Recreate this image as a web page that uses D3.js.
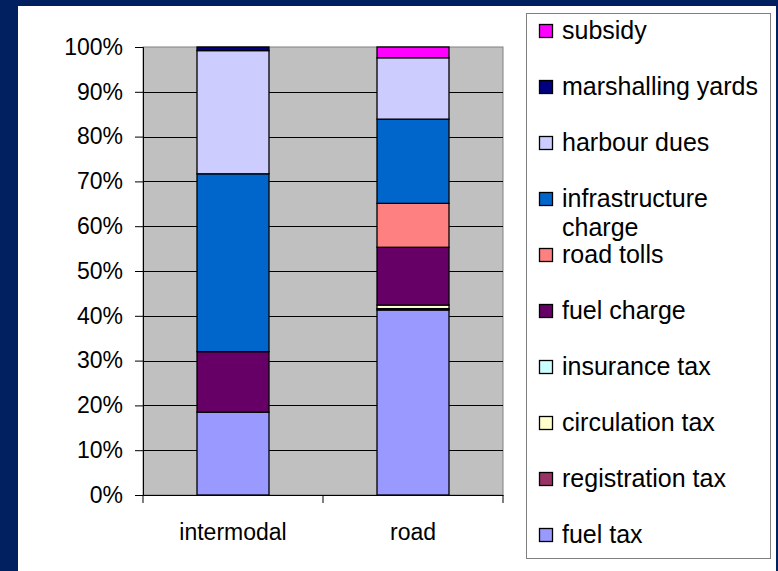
<!DOCTYPE html>
<html>
<head>
<meta charset="utf-8">
<script src="https://cdn.jsdelivr.net/npm/d3@7"></script>
<style>
  html, body { margin: 0; padding: 0; background: #002060; }
  svg { display: block; font-family: 'Liberation Sans', Arial, sans-serif; }
</style>
</head>
<body>
<svg id="chart" width="778" height="571"></svg>
<script>
// chart data (percent of total per mode)
const categories = ['intermodal', 'road']
const seriesNames = [
  'fuel tax', 'registration tax', 'circulation tax', 'insurance tax',
  'fuel charge', 'road tolls', 'infrastructure charge', 'harbour dues',
  'marshalling yards', 'subsidy'
]
const seriesColors = [
  '#9999FF', '#993366', '#FFFFCC', '#CCFFFF', '#660066',
  '#FF8080', '#0066CC', '#CCCCFF', '#000080', '#FF00FF'
]
const intermodalValues = [18.5, 0, 0, 0, 13.5, 0, 39.7, 27.5, 0.8, 0]
const roadValues = [41.3, 0.3, 0.8, 0, 12.9, 9.8, 18.8, 13.7, 0, 2.4]
const yTicks = [0, 0.1, 0.2, 0.3, 0.4, 0.5, 0.6, 0.7, 0.8, 0.9, 1]

const svg = d3.select('#chart')

// white slide panel
svg.append('rect')
  .attr('x', 18).attr('y', 6)
  .attr('width', 758).attr('height', 571)
  .attr('fill', '#fff')

const plot = { left: 143, right: 503, top: 47, bottom: 495 }

const rows = categories.map((name, i) => {
  const vals = i === 0 ? intermodalValues : roadValues
  const row = { name }
  seriesNames.forEach((s, j) => { row[s] = vals[j] })
  return row
})

const stack = d3.stack()
  .keys(seriesNames)
  .offset(d3.stackOffsetExpand)
const series = stack(rows)

const x = d3.scaleBand()
  .domain(categories)
  .range([plot.left, plot.right])
  .paddingInner(0.6)
  .paddingOuter(0.3)

const y = d3.scaleLinear()
  .domain([0, 1])
  .range([plot.bottom, plot.top])

const color = d3.scaleOrdinal().domain(seriesNames).range(seriesColors)

// plot background
svg.append('rect')
  .attr('x', plot.left).attr('y', plot.top)
  .attr('width', plot.right - plot.left)
  .attr('height', plot.bottom - plot.top)
  .attr('fill', '#C0C0C0')
  .attr('stroke', '#808080')
  .attr('stroke-width', 1)

// gridlines
svg.append('g')
  .selectAll('line')
  .data(yTicks.filter(t => t > 0 && t < 1))
  .enter()
  .append('line')
  .attr('x1', plot.left).attr('x2', plot.right)
  .attr('y1', d => Math.round(y(d)) + 0.5)
  .attr('y2', d => Math.round(y(d)) + 0.5)
  .attr('stroke', '#000')
  .attr('stroke-width', 1)

// stacked bars
svg.append('g')
  .selectAll('g')
  .data(series)
  .enter()
  .append('g')
  .attr('fill', d => color(d.key))
  .selectAll('rect')
  .data(d => d.filter(p => p[1] - p[0] > 0))
  .enter()
  .append('rect')
  .attr('x', d => x(d.data.name))
  .attr('y', d => y(d[1]))
  .attr('width', x.bandwidth())
  .attr('height', d => y(d[0]) - y(d[1]))
  .attr('stroke', '#000')
  .attr('stroke-width', 1.3)

// y axis
const yAxis = svg.append('g')
  .attr('transform', `translate(${plot.left},0)`)
  .call(d3.axisLeft(y)
    .tickValues(yTicks)
    .tickFormat(d3.format('.0%'))
    .tickSize(8)
    .tickPadding(12))
yAxis.select('.domain').attr('stroke', '#000')
yAxis.selectAll('line').attr('stroke', '#000')
yAxis.selectAll('text')
  .attr('font-size', 23)
  .attr('fill', '#000')
  .style('font-family', "'Liberation Sans', Arial, sans-serif")

// x axis
const xAxis = svg.append('g')
  .attr('transform', `translate(0,${plot.bottom})`)
  .call(d3.axisBottom(x).tickSizeInner(0).tickSizeOuter(0).tickPadding(29))
xAxis.select('.domain').attr('stroke', '#000')
xAxis.selectAll('text')
  .attr('font-size', 23)
  .attr('fill', '#000')
  .style('font-family', "'Liberation Sans', Arial, sans-serif")

// category separator ticks
xAxis.append('g')
  .selectAll('line')
  .data(d3.range(categories.length + 1))
  .enter()
  .append('line')
  .attr('x1', i => plot.left + i * x.step())
  .attr('x2', i => plot.left + i * x.step())
  .attr('y1', 0).attr('y2', 8)
  .attr('stroke', '#000')

// legend
svg.append('rect')
  .attr('x', 526.5).attr('y', 13.5)
  .attr('width', 244).attr('height', 545)
  .attr('fill', '#fff')
  .attr('stroke', '#808080')

const legend = svg.append('g')
const legendStep = 56
const legendBottom = 534

seriesNames.forEach((name, i) => {
  const cy = legendBottom - i * legendStep
  const item = legend.append('g')
  item.append('rect')
    .attr('x', 539.5).attr('y', cy - 5.5)
    .attr('width', 13).attr('height', 13)
    .attr('fill', color(name))
    .attr('stroke', '#000')
    .attr('stroke-width', 1.3)
  const lines = name === 'infrastructure charge' ? ['infrastructure', 'charge'] : [name]
  lines.forEach((ln, k) => {
    item.append('text')
      .attr('x', 562)
      .attr('y', cy + k * 29)
      .attr('dy', '0.35em')
      .attr('font-size', 25)
      .attr('fill', '#000')
      .text(ln)
  })
})
</script>
</body>
</html>
